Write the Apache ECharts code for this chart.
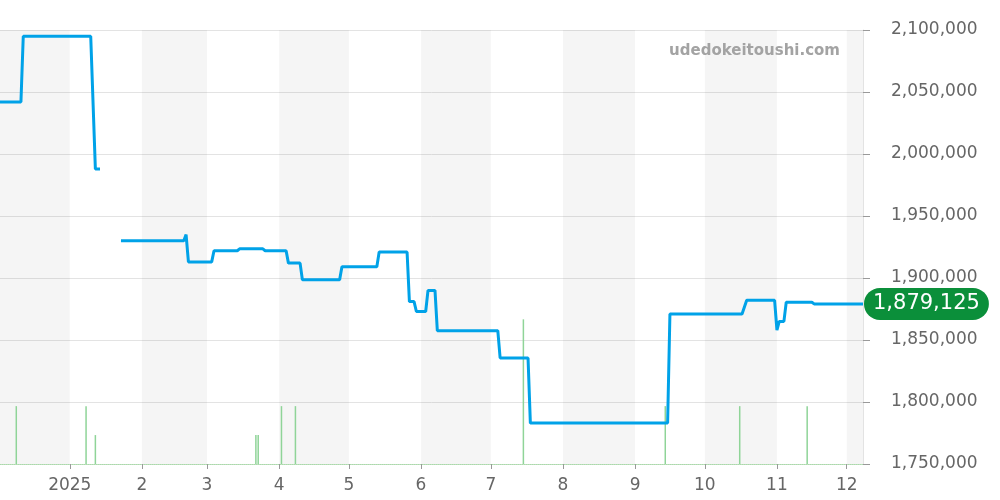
<!DOCTYPE html>
<html><head><meta charset="utf-8">
<script src="https://cdn.jsdelivr.net/npm/echarts@6/dist/echarts.min.js"></script>
<style>html,body{margin:0;padding:0;background:#fff}#c{width:1000px;height:500px}</style>
</head><body><div id="c"></div>
<script>
// ---- data ----
const priceDates = ['2024-12-02','2024-12-11','2024-12-12','2025-01-10','2025-01-12','2025-01-14','2025-01-18','2025-01-23',
  '2025-02-19','2025-02-20','2025-02-21','2025-03-03','2025-03-04','2025-03-14','2025-03-15','2025-03-25','2025-03-26',
  '2025-04-04','2025-04-05','2025-04-10','2025-04-11','2025-04-27','2025-04-28','2025-05-13','2025-05-14','2025-05-26',
  '2025-05-27','2025-05-29','2025-05-30','2025-06-03','2025-06-04','2025-06-07','2025-06-08','2025-07-04','2025-07-05',
  '2025-07-17','2025-07-18','2025-09-15','2025-09-16','2025-10-17','2025-10-19','2025-10-31','2025-11-01','2025-11-02',
  '2025-11-04','2025-11-05','2025-11-16','2025-11-17','2025-12-08'];
const priceValues = [2042000,2042000,2095000,2095000,1988000,1988000,null,1930000,
  1930000,1935000,1913000,1913000,1922000,1922000,1923500,1923500,1922000,
  1922000,1912000,1912000,1898500,1898500,1909000,1909000,1921000,1921000,
  1881000,1881000,1873000,1873000,1890000,1890000,1857500,1857500,1835500,
  1835500,1783000,1783000,1871000,1871000,1882000,1882000,1858000,1865000,
  1865000,1880500,1880500,1879125,1879125];
const volumeDates = ['2024-12-09','2025-01-08','2025-01-12','2025-03-22','2025-03-23','2025-04-02','2025-04-08',
  '2025-07-15','2025-09-14','2025-10-16','2025-11-14'];
const volumeValues = [2,2,1,1,1,2,2,5,2,2,2];
const tickDates = ['2025-01-01','2025-02-01','2025-03-01','2025-04-01','2025-05-01','2025-06-01','2025-07-01',
  '2025-08-01','2025-09-01','2025-10-01','2025-11-01','2025-12-01'];
const tickLabels = ['2025','2','3','4','5','6','7','8','9','10','11','12'];
const shadedMonths = [['2024-12-01','2025-01-01'],['2025-02-01','2025-03-01'],['2025-04-01','2025-05-01'],
  ['2025-06-01','2025-07-01'],['2025-08-01','2025-09-01'],['2025-10-01','2025-11-01'],['2025-12-01','2026-01-01']];
const axisStart = '2024-12-02', axisEnd = '2025-12-08';
const yMin = 1750000, yMax = 2100000, yStep = 50000;
const lastValue = 1879125;
const siteName = 'udedokeitoushi.com';

function t(s){const p=s.split('-').map(Number);return Date.UTC(p[0],p[1]-1,p[2]);}
const fmt = v => Number(v).toLocaleString('en-US');
const xMin = t(axisStart), xMax = t(axisEnd);
const tickTimes = tickDates.map(t);
const FONT = 'DejaVu Sans';

const chart = echarts.init(document.getElementById('c'));
chart.setOption({
  animation: false,
  backgroundColor: '#fff',
  grid: {left: 0, right: 137, top: 30, bottom: 36, containLabel: false},
  graphic: [{type: 'text', right: 160, top: 44, z: 10,
    style: {text: siteName, fill: '#a3a3a3', font: 'bold 15px "DejaVu Sans"', textAlign: 'right'}}],
  xAxis: {
    type: 'value', min: xMin, max: xMax,
    splitLine: {show: false},
    axisLine: {show: true, onZero: false, lineStyle: {color: '#a9dba9', type: [1, 1], width: 1}},
    axisTick: {show: true, customValues: tickTimes, length: 5, lineStyle: {color: '#999'}},
    axisLabel: {customValues: tickTimes, margin: 13, color: '#666', fontSize: 17, fontFamily: FONT,
      formatter: v => { const i = tickTimes.indexOf(v); return i >= 0 ? tickLabels[i] : ''; }}
  },
  yAxis: [{
    type: 'value', position: 'right', min: yMin, max: yMax, interval: yStep,
    axisLine: {show: true, lineStyle: {color: '#e3e3e3'}},
    axisTick: {show: true, length: 7, lineStyle: {color: '#999'}},
    splitLine: {show: true, lineStyle: {color: '#e3e3e3'}},
    axisLabel: {margin: 28, color: '#666', fontSize: 17, fontFamily: FONT, formatter: fmt, padding: [4, 0, 0, 0]}
  }, {
    type: 'value', min: 0, max: 15, show: false, splitLine: {show: false}
  }],
  series: [{
    type: 'bar', yAxisIndex: 1, z: 1, barWidth: 1.5,
    itemStyle: {color: '#8fd498'},
    data: volumeDates.map((d, i) => [t(d), volumeValues[i]]),
    markArea: {silent: true, itemStyle: {color: 'rgba(0,0,0,0.04)'},
      data: shadedMonths.map(m => [{xAxis: Math.max(t(m[0]), xMin)}, {xAxis: Math.min(t(m[1]), xMax)}])}
  }, {
    type: 'line', z: 3, showSymbol: false, connectNulls: false,
    lineStyle: {width: 3, color: '#00a2e8'}, itemStyle: {color: '#00a2e8'},
    data: priceDates.map((d, i) => [t(d), priceValues[i]]),
    markLine: {silent: true, symbol: 'none', z: 5,
      lineStyle: {width: 0, color: 'rgba(0,0,0,0)', type: 'solid'},
      data: [{yAxis: lastValue}],
      label: {show: true, position: 'end', distance: 1, formatter: () => fmt(lastValue),
        backgroundColor: '#0b8f3a', color: '#fff', fontSize: 21, fontFamily: FONT,
        padding: [5, 9, 4, 9], borderRadius: 16, lineHeight: 23}}
  }]
});
</script></body></html>
